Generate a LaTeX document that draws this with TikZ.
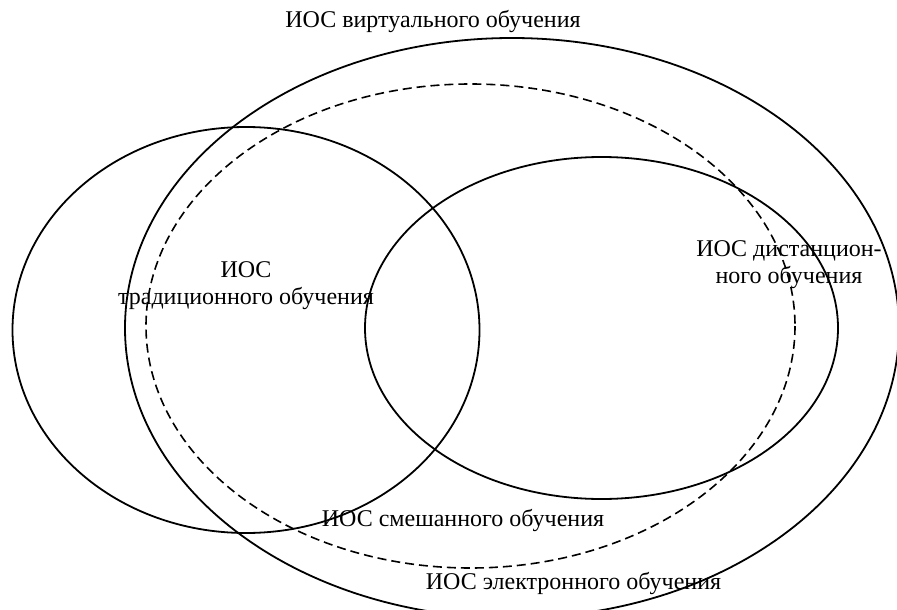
\documentclass[tikz,border=0pt]{standalone}
\usepackage{fontspec}
\setmainfont{Liberation Serif}
\tikzset{
   ring/.style={line width=1.8pt},
   ringdash/.style={line width=1.6pt, dash pattern=on 9pt off 5pt},
   label/.style={font=\fontsize{24}{27}\selectfont, align=center, inner sep=0pt, anchor=base}
}
\begin{document}
\begin{tikzpicture}[x=1pt, y=-1pt]
      \useasboundingbox (0, 0) rectangle (897, 610);
      \clip (0, 0) rectangle (897, 610);
      % areas
      \draw[ring] (512, 328) ellipse [x radius=387, y radius=290];
      \draw[ringdash] (470.5, 326) ellipse [x radius=324.5, y radius=242];
      \draw[ring] (246, 330) ellipse [x radius=233.5, y radius=203];
      \draw[ring] (601.5, 328) ellipse [x radius=236.5, y radius=171];
      % names
      \node[label] (virt) at (433, 28) {ИОС виртуального обучения};
      \node[label] (trad) at (246, 304) {ИОС\\традиционного обучения};
      \node[label] (dist) at (789, 283) {ИОС дистанцион-\\ного обучения};
      \node[label] (mix) at (463, 526) {ИОС смешанного обучения};
      \node[label] (elec) at (573.5, 589) {ИОС электронного обучения};
   \end{tikzpicture}
\end{document}
